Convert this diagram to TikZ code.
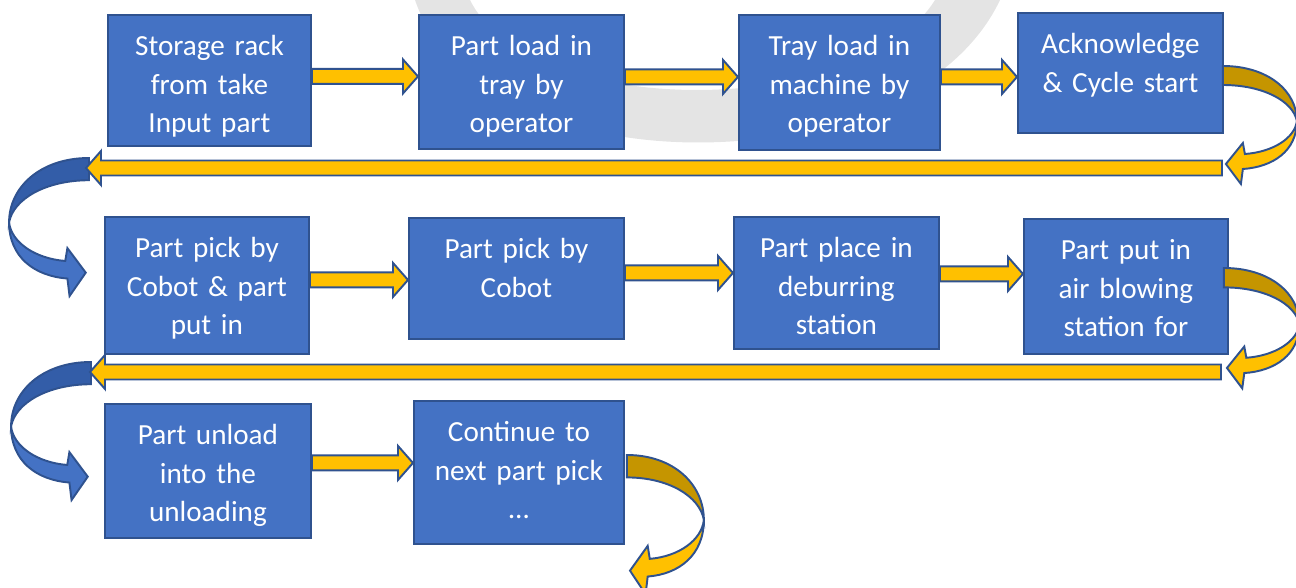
\documentclass[tikz,border=0pt]{standalone}
\usepackage{fontspec}
\setmainfont{Carlito}
\usetikzlibrary{calc}

\definecolor{boxblue}{HTML}{4472C4}
\definecolor{boxline}{HTML}{2F528F}
\definecolor{flowyellow}{HTML}{FFC000}
\definecolor{flowgold}{HTML}{C59500}
\definecolor{turnblue}{HTML}{335DA8}
\definecolor{markgray}{HTML}{E4E4E4}

\tikzset{
  box/.style 2 args={draw=boxline, fill=boxblue, line width=1.1pt, text=white, align=center,
    inner sep=0pt, anchor=north west, text width=#1, text height=0.82cm, text depth=#2,
    font=\fontsize{16.6}{21.9}\selectfont},
  flow/.style={draw=boxline, fill=flowyellow, line width=1.1pt, line join=miter},
  pics/turn/.style 2 args={code={
    \filldraw[draw=boxline, line width=1.1pt, fill=#1] (0,0) .. controls (45,0) and (74,25) .. (74,55)
      .. controls (70,35) and (40,19) .. (0,19) -- cycle;
    \filldraw[draw=boxline, line width=1.1pt, fill=#2] (74,55) .. controls (74,85) and (50,101) .. (20,103)
      -- (18,118) -- (3,98) -- (20,77) -- (22,88) .. controls (50,86) and (72,72) .. (74,55) -- cycle;
  }}
}

\newcommand{\flowarrow}[2]{%
  \filldraw[flow] let \p1=(#1), \p2=(#2), \n1={\x2-sign(\x2-\x1)*8.536} in
    (\x1,{\y1-0.15cm}) -- ({\n1+0pt},{\y1-0.15cm}) -- ({\n1+0pt},{\y1-0.34cm}) -- (\x2,\y1)
    -- ({\n1+0pt},{\y1+0.34cm}) -- ({\n1+0pt},{\y1+0.15cm}) -- (\x1,{\y1+0.15cm}) -- cycle;}

\begin{document}
\begin{tikzpicture}[x=0.02cm, y=-0.02cm]
  \useasboundingbox (0,0) rectangle (1296,588);
  \fill[markgray] (415,0) .. controls (480,190) and (910,190) .. (1000,0) -- (935,0)
    .. controls (860,120) and (530,120) .. (470,0) -- cycle;

  \node[box={4.06cm}{1.80cm}] (rack) at (107,14) {Storage rack\\ from take\\ Input part};
  \node[box={4.10cm}{1.86cm}] (load) at (418,14) {Part load in\\ tray by\\ operator};
  \node[box={4.02cm}{1.88cm}] (tray) at (738,14) {Tray load in\\ machine by\\ operator};
  \node[box={4.10cm}{1.58cm}] (ack) at (1017,12) {Acknowledge\\ \& Cycle start};

  \node[box={4.08cm}{1.92cm}] (pickput) at (104,216) {Part pick by\\ Cobot \& part\\ put in};
  \node[box={4.30cm}{1.60cm}] (pick) at (408,217) {Part pick by\\ Cobot};
  \node[box={4.10cm}{1.82cm}] (place) at (733,216) {Part place in\\ deburring\\ station};
  \node[box={4.08cm}{1.88cm}] (blow) at (1023,218) {Part put in\\ air blowing\\ station for};

  \node[box={4.12cm}{1.86cm}] (unload) at (104,403) {Part unload\\ into the\\ unloading};
  \node[box={4.20cm}{2.04cm}] (next) at (413,400) {Continue to\\ next part pick\\ …};

  \flowarrow{$(rack.east)+(0,-4)$}{load.west}
  \flowarrow{$(load.east)+(0,-5)$}{tray.west}
  \flowarrow{$(tray.east)+(0,-5.5)$}{ack.west}
  \flowarrow{$(pickput.east)+(0,-5.5)$}{pick.west}
  \flowarrow{$(pick.east)+(0,-5.5)$}{place.west}
  \flowarrow{$(place.east)+(0,-9)$}{blow.west}
  \flowarrow{$(unload.east)+(0,-8)$}{next.west}

  \coordinate (turn1) at (1222,168);
  \coordinate (back1) at (86,168);
  \coordinate (turn2) at (1221,372);
  \coordinate (back2) at (90,372);

  \pic[xscale=-1.08, yscale=1.17] at ($(back1)+(3,-10)$) {turn={turnblue}{boxblue}};
  \pic[xscale=-1.08, yscale=1.17] at ($(back2)+(1,-10)$) {turn={turnblue}{boxblue}};

  \flowarrow{turn1}{back1}
  \flowarrow{turn2}{back2}

  \pic at ($(ack.north east)+(-1,54)$) {turn={flowgold}{flowyellow}};
  \pic[xscale=1.02, yscale=1.02] at ($(blow.north east)+(-5,50)$) {turn={flowgold}{flowyellow}};
  \pic[xscale=1.04, yscale=1.18] at ($(next.north east)+(2,55)$) {turn={flowgold}{flowyellow}};
\end{tikzpicture}
\end{document}
